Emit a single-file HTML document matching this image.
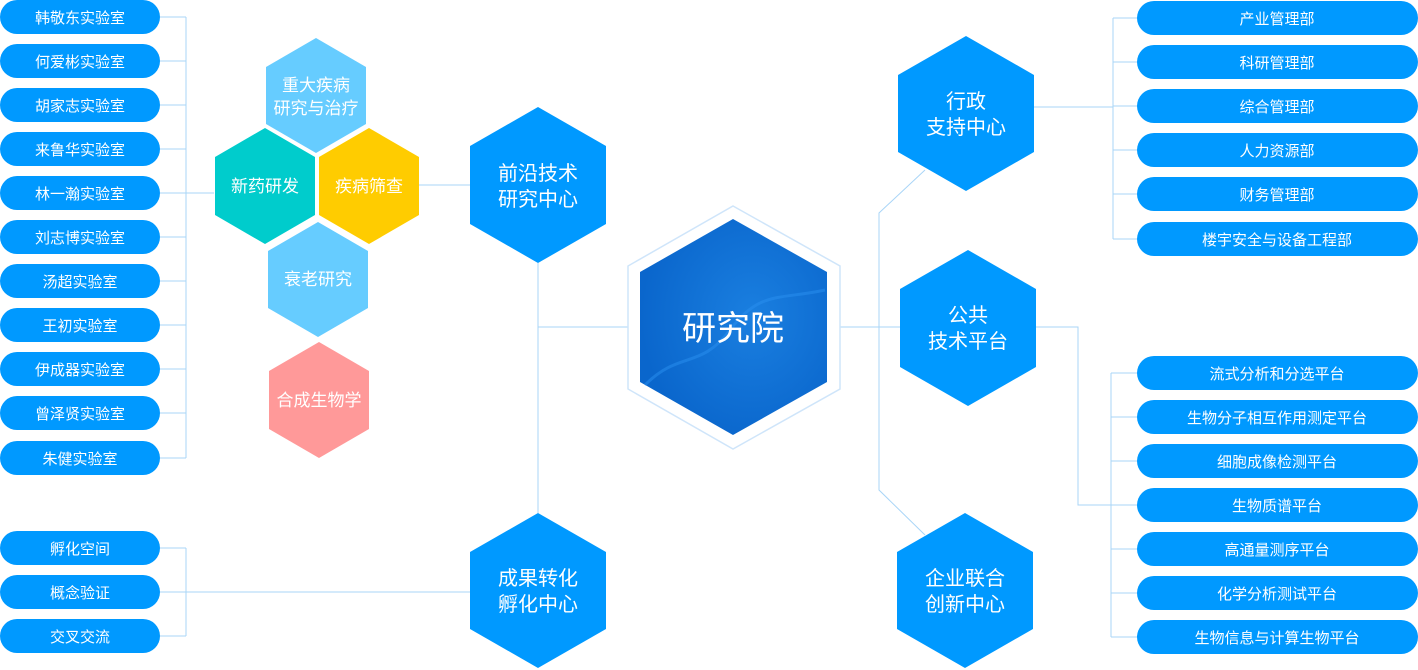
<!DOCTYPE html>
<html><head><meta charset="utf-8"><style>
html,body{margin:0;padding:0;background:#fff;}
svg{display:block;}
text{font-family:"Liberation Sans","Noto Sans CJK SC",sans-serif;fill:#fff;text-anchor:middle;}
</style></head><body>
<svg width="1418" height="670" viewBox="0 0 1418 670" xmlns="http://www.w3.org/2000/svg">
<defs>
<radialGradient id="cg" cx="0.6" cy="0.45" r="0.6">
<stop offset="0" stop-color="#1a7fe0"/><stop offset="1" stop-color="#0a66cc"/>
</radialGradient>
</defs>
<g stroke="#a9d5f7" stroke-width="1" fill="none">
<!-- left bracket -->
<path d="M186 17V458"/>
<path d="M160 17H186M160 61H186M160 105H186M160 149H186M160 193H214M160 237H186M160 281H186M160 325H186M160 369H186M160 413H186M160 458H186"/>
<path d="M419 185H470"/>
<path d="M538 263V513M538 327H628"/>
<path d="M186 548V636M160 548H186M160 636H186M160 592H470"/>
<path d="M840 327H900"/>
<path d="M925 170L879 213V490L925 535"/>
<path d="M1034 107H1113M1113 18V239M1113 18H1137M1113 62H1137M1113 106H1137M1113 150H1137M1113 194H1137M1113 239H1137"/>
<path d="M1036 327H1078V505H1111M1111 373V637M1111 373H1137M1111 417H1137M1111 461H1137M1111 505H1137M1111 549H1137M1111 593H1137M1111 637H1137"/>
</g>
<!-- center -->
<polygon points="733,206 840,266 840,389 733,449 628,389 628,266" fill="#fff" stroke="#cfe5fa" stroke-width="1.5"/>
<polygon points="733,219 827,272 827,382 733,435 640,382 640,272" fill="url(#cg)"/>
<path d="M645 385 C680 350 700 370 730 330 C760 290 780 300 825 290" stroke="#2a8ff0" stroke-width="3" fill="none" opacity="0.5"/>
<text x="733" y="340" font-size="34">研究院</text>
<!-- blue hexes -->
<g fill="#0099ff">
<polygon points="538,107 606,146 606,224 538,263 470,224 470,146"/>
<polygon points="966,36 1034,75 1034,152 966,191 898,152 898,75"/>
<polygon points="968,250 1036,289 1036,367 968,406 900,367 900,289"/>
<polygon points="538,513 606,552 606,629 538,668 470,629 470,552"/>
<polygon points="965,513 1033,552 1033,629 965,668 897,629 897,552"/>
</g>
<g font-size="20">
<text x="538" y="180">前沿技术</text><text x="538" y="206">研究中心</text>
<text x="966" y="108">行政</text><text x="966" y="134">支持中心</text>
<text x="968" y="322">公共</text><text x="968" y="348">技术平台</text>
<text x="538" y="585">成果转化</text><text x="538" y="611">孵化中心</text>
<text x="965" y="585">企业联合</text><text x="965" y="611">创新中心</text>
</g>
<!-- small hexes -->
<polygon points="316,38 366,67 366,124 316,153 266,124 266,67" fill="#66ccff"/>
<polygon points="265,128 315,157 315,215 265,244 215,215 215,157" fill="#00cccc"/>
<polygon points="369,128 419,157 419,215 369,244 319,215 319,157" fill="#ffcc00"/>
<polygon points="318,222 368,251 368,308 318,337 268,308 268,251" fill="#66ccff"/>
<polygon points="319,342 369,371 369,429 319,458 269,429 269,371" fill="#ff9999"/>
<g font-size="17">
<text x="316" y="91">重大疾病</text><text x="316" y="114">研究与治疗</text>
<text x="265" y="192">新药研发</text>
<text x="369" y="192">疾病筛查</text>
<text x="318" y="285">衰老研究</text>
<text x="319" y="406">合成生物学</text>
</g>
<!-- left pills -->
<g fill="#0099ff">
<rect x="0" y="0" width="160" height="34" rx="17"/>
<rect x="0" y="44" width="160" height="34" rx="17"/>
<rect x="0" y="88" width="160" height="34" rx="17"/>
<rect x="0" y="132" width="160" height="34" rx="17"/>
<rect x="0" y="176" width="160" height="34" rx="17"/>
<rect x="0" y="220" width="160" height="34" rx="17"/>
<rect x="0" y="264" width="160" height="34" rx="17"/>
<rect x="0" y="308" width="160" height="34" rx="17"/>
<rect x="0" y="352" width="160" height="34" rx="17"/>
<rect x="0" y="396" width="160" height="34" rx="17"/>
<rect x="0" y="441" width="160" height="34" rx="17"/>
<rect x="0" y="531" width="160" height="34" rx="17"/>
<rect x="0" y="575" width="160" height="34" rx="17"/>
<rect x="0" y="619" width="160" height="34" rx="17"/>
</g>
<g font-size="15">
<text x="80" y="23">韩敬东实验室</text>
<text x="80" y="67">何爱彬实验室</text>
<text x="80" y="111">胡家志实验室</text>
<text x="80" y="155">来鲁华实验室</text>
<text x="80" y="199">林一瀚实验室</text>
<text x="80" y="243">刘志博实验室</text>
<text x="80" y="287">汤超实验室</text>
<text x="80" y="331">王初实验室</text>
<text x="80" y="375">伊成器实验室</text>
<text x="80" y="419">曾泽贤实验室</text>
<text x="80" y="464">朱健实验室</text>
<text x="80" y="554">孵化空间</text>
<text x="80" y="598">概念验证</text>
<text x="80" y="642">交叉交流</text>
</g>
<!-- right pills -->
<g fill="#0099ff">
<rect x="1137" y="1" width="281" height="34" rx="17"/>
<rect x="1137" y="45" width="281" height="34" rx="17"/>
<rect x="1137" y="89" width="281" height="34" rx="17"/>
<rect x="1137" y="133" width="281" height="34" rx="17"/>
<rect x="1137" y="177" width="281" height="34" rx="17"/>
<rect x="1137" y="222" width="281" height="34" rx="17"/>
<rect x="1137" y="356" width="281" height="34" rx="17"/>
<rect x="1137" y="400" width="281" height="34" rx="17"/>
<rect x="1137" y="444" width="281" height="34" rx="17"/>
<rect x="1137" y="488" width="281" height="34" rx="17"/>
<rect x="1137" y="532" width="281" height="34" rx="17"/>
<rect x="1137" y="576" width="281" height="34" rx="17"/>
<rect x="1137" y="620" width="281" height="34" rx="17"/>
</g>
<g font-size="15">
<text x="1277" y="24">产业管理部</text>
<text x="1277" y="68">科研管理部</text>
<text x="1277" y="112">综合管理部</text>
<text x="1277" y="156">人力资源部</text>
<text x="1277" y="200">财务管理部</text>
<text x="1277" y="245">楼宇安全与设备工程部</text>
<text x="1277" y="379">流式分析和分选平台</text>
<text x="1277" y="423">生物分子相互作用测定平台</text>
<text x="1277" y="467">细胞成像检测平台</text>
<text x="1277" y="511">生物质谱平台</text>
<text x="1277" y="555">高通量测序平台</text>
<text x="1277" y="599">化学分析测试平台</text>
<text x="1277" y="643">生物信息与计算生物平台</text>
</g>
</svg>
</body></html>
